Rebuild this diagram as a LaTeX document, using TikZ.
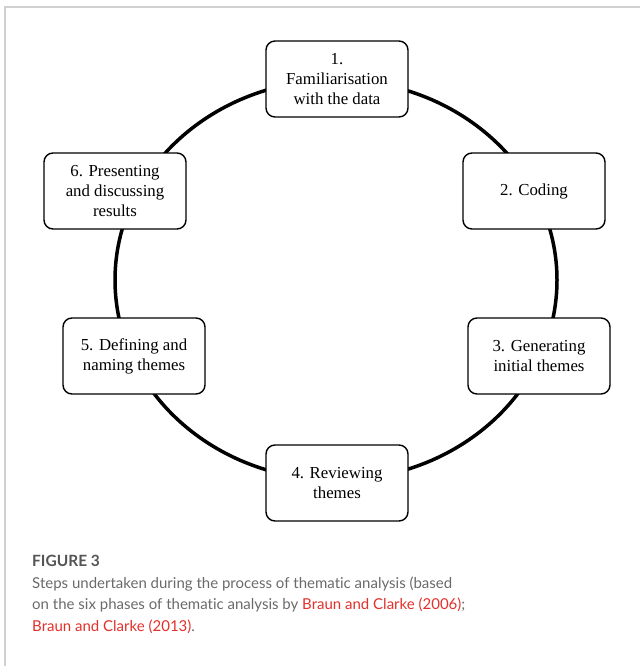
\documentclass[tikz,border=0pt]{standalone}
\usepackage{fontspec}
\setmainfont{Liberation Serif}
\newfontfamily\capfont[Ligatures=NoCommon]{Lato}
\definecolor{framegray}{HTML}{D0D0D0}
\definecolor{capgray}{HTML}{6A6A6A}
\definecolor{figgray}{HTML}{555555}
\definecolor{linkred}{HTML}{E2302B}
\tikzset{
    phase/.style={draw, line width=1.4pt, rounded corners=9pt, fill=white,
        minimum width=142pt, minimum height=76pt, align=center,
        font=\fontsize{16.8}{20}\selectfont},
    ring/.style={line width=3.5pt},
}
\begin{document}
\begin{tikzpicture}[x=1pt,y=-1pt]
    \useasboundingbox (0,0) rectangle (640,666);
    \draw[framegray, line width=1.5pt] (5,666) -- (5,7) -- (640,7);
    % the cycle
    \coordinate (c) at (336,280);
    \draw[ring] (c) ellipse [x radius=221pt, y radius=200pt];
    % the six phases
    \node[phase] (p1) at (337,79)  {1.\\Familiarisation\\with the data};
    \node[phase] (p2) at (534,191) {2. Coding};
    \node[phase] (p3) at (539,356) {3. Generating\\initial themes};
    \node[phase] (p4) at (337,483) {4. Reviewing\\themes};
    \node[phase] (p5) at (134,356) {5. Defining and\\naming themes};
    \node[phase] (p6) at (115,191) {6. Presenting\\and discussing\\results};
    % caption
    \node[anchor=north west, align=left, inner sep=0pt, text=capgray,
        font=\capfont\fontsize{15}{21.5}\selectfont] (cap) at (32,555)
        {{\color{figgray}\fontsize{15.5}{21.5}\selectfont\bfseries FIGURE 3}\\
         Steps undertaken during the process of thematic analysis (based\\
         on the six phases of thematic analysis by {\color{linkred}Braun and Clarke (2006)};\\
         {\color{linkred}Braun and Clarke (2013)}.};
\end{tikzpicture}
\end{document}
